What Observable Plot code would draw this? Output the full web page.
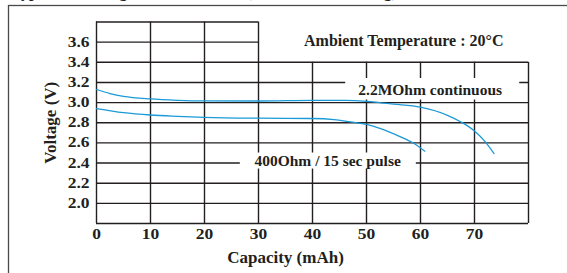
<!DOCTYPE html>
<html><head><meta charset="utf-8">
<script src="https://cdn.jsdelivr.net/npm/d3@7"></script>
<script src="https://cdn.jsdelivr.net/npm/@observablehq/plot@0.6"></script>
<style>body{margin:0;background:#fff} svg{display:block}</style>
</head><body><div id="chart"></div>
<script>
// ---- data ----
const title = "Typical Discharge Characteristics (Continuous Loading)";
const xLabel = "Capacity (mAh)";
const yLabel = "Voltage (V)";
const ambientLabel = "Ambient Temperature : 20°C";
const xTicks = [0, 10, 20, 30, 40, 50, 60, 70];
const yTicks = [2.0, 2.2, 2.4, 2.6, 2.8, 3.0, 3.2, 3.4, 3.6];
const seriesNames = ["2.2MOhm continuous", "400Ohm / 15 sec pulse"];
const continuousCap = [0, 2.5, 5, 10, 15, 20, 30, 40, 46, 50, 52.6, 55, 60, 65, 67.5, 70, 72, 73.6];
const continuousV   = [3.13, 3.09, 3.062, 3.036, 3.023, 3.017, 3.016, 3.022, 3.022, 3.013, 2.998, 2.985, 2.955, 2.874, 2.808, 2.718, 2.61, 2.495];
const pulseCap = [0, 5, 10, 15, 20, 30, 40, 44, 47, 50, 52.6, 56.3, 58.8, 60.8];
const pulseV   = [2.94, 2.90, 2.877, 2.864, 2.854, 2.845, 2.842, 2.832, 2.808, 2.783, 2.742, 2.66, 2.594, 2.518];
const labelCap = [61.8, 42.8];
const labelV   = [3.12, 2.42];
const ambientCap = 56.9, ambientV = 3.617;

// ---- derived tables ----
const xDomain = [0, 80], yDomain = [1.8, 3.8];
const shortGridX = 30, shortGridY = 3.4;
const continuous = continuousCap.map((c, i) => ({cap: c, v: continuousV[i]}));
const pulse = pulseCap.map((c, i) => ({cap: c, v: pulseV[i]}));
const hLines = [yDomain[0], ...yTicks, yDomain[1]];
const vLines = [...xTicks, xDomain[1]];
const labels = seriesNames.map((n, i) => ({name: n, cap: labelCap[i], v: labelV[i]}));
const ink = "#231f20";
const font = "'Liberation Serif', 'Times New Roman', serif";

const chart = Plot.plot({
  width: 567, height: 273,
  marginLeft: 96, marginRight: 39, marginTop: 21.5, marginBottom: 50,
  style: {fontFamily: font, fontWeight: "bold", color: ink, background: "#fff"},
  x: {domain: xDomain},
  y: {domain: yDomain},
  marks: [
    Plot.frame({stroke: "#4a4a4a", strokeWidth: 1.3, insetLeft: -88, insetTop: -16.5, insetRight: -60, insetBottom: -80}),
    Plot.ruleY(hLines, {y: d => d, x1: xDomain[0], x2: d => d > shortGridY ? shortGridX : xDomain[1], stroke: ink, strokeWidth: 1.4}),
    Plot.ruleX(vLines, {x: d => d, y1: yDomain[0], y2: d => d > shortGridX ? shortGridY : yDomain[1], stroke: ink, strokeWidth: 1.4}),
    Plot.rect([labels[0]], {x1: "cap", x2: "cap", y1: "v", y2: "v", fill: "#fff", insetLeft: -84.5, insetRight: -89.5, insetTop: -12, insetBottom: -9.5}),
    Plot.rect([labels[1]], {x1: "cap", x2: "cap", y1: "v", y2: "v", fill: "#fff", insetLeft: -87.3, insetRight: -88.7, insetTop: -8, insetBottom: -8}),
    Plot.line(continuous, {x: "cap", y: "v", curve: "monotone-x", stroke: "#1b9ad7", strokeWidth: 1.3}),
    Plot.line(pulse, {x: "cap", y: "v", curve: "monotone-x", stroke: "#1b9ad7", strokeWidth: 1.3}),
    Plot.text(labels, {x: "cap", y: "v", text: "name", fontSize: 15.5}),
    Plot.text([ambientLabel], {x: ambientCap, y: ambientV, text: d => d, fontSize: 16}),
    Plot.axisY(yTicks, {tickSize: 0, tickPadding: 7, tickFormat: d3.format(".1f"), fontSize: 14, label: null}),
    Plot.axisX(xTicks, {tickSize: 0, tickPadding: 6, fontSize: 14, label: null}),
    Plot.text([xLabel], {x: d3.mean(xTicks), frameAnchor: "bottom", lineAnchor: "middle", dy: 34, text: d => d, fontSize: 17}),
    Plot.text([yLabel], {y: d3.mean(yDomain), frameAnchor: "left", textAnchor: "middle", lineAnchor: "middle", dx: -46, rotate: -90, text: d => d, fontSize: 17}),
    Plot.text([title], {frameAnchor: "top-left", textAnchor: "start", lineAnchor: "bottom", dx: -85, dy: -25, text: d => d, fontSize: 16})
  ]
});
// the original artwork's tick numerals are horizontally stretched
d3.select(chart).selectAll('g[aria-label="y-axis tick label"] text, g[aria-label="x-axis tick label"] text')
  .attr("transform", function () { return (this.getAttribute("transform") || "") + " scale(1.25,1)"; });
document.getElementById("chart").append(chart);
</script>
</body></html>
